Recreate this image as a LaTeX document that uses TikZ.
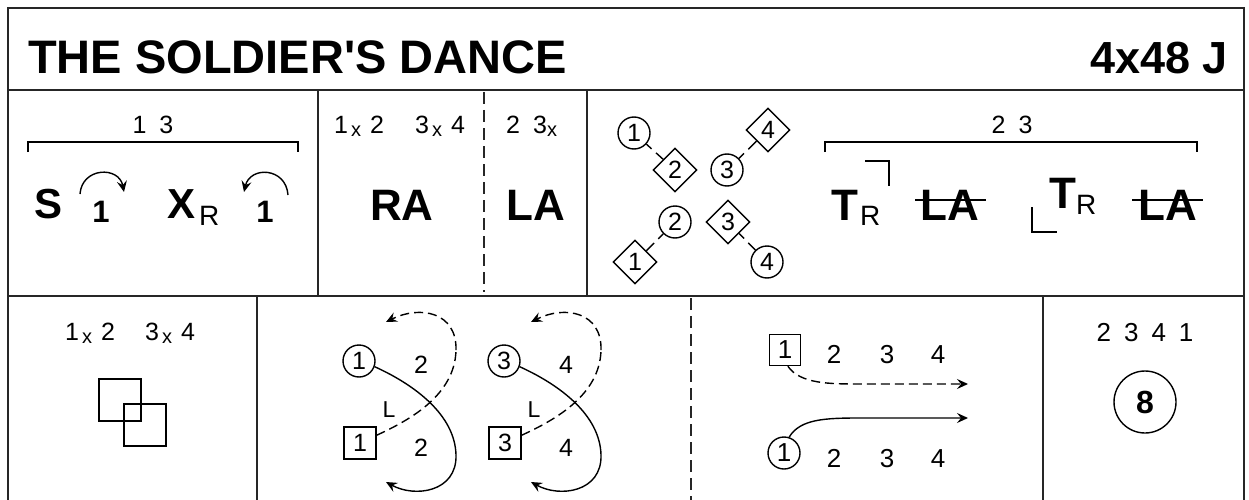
\documentclass[tikz,border=0pt]{standalone}
\usepackage{fontspec}
\setmainfont{Liberation Sans}
\usetikzlibrary{shapes.geometric,arrows.meta}
\newcommand\fsz[1]{\fontsize{#1}{#1}\selectfont}
\newcommand\subx{\hspace{3pt}\raisebox{-3pt}{\fsz{20}x}\hspace{9pt}}
\newcommand\subxe{\raisebox{-3pt}{\fsz{20}x}}
\newcommand\gap{\hspace{13pt}}
\begin{document}
\begin{tikzpicture}[x=1pt,y=-1pt,
  frame/.style={line width=2.2pt, draw=black!85},
  thinl/.style={line width=1.4pt},
  txt/.style={inner sep=0pt, anchor=base},
  num/.style={txt, font=\fsz{25}},
  bignum/.style={txt, font=\fsz{26}},
  pc/.style={circle, draw, thinl, minimum size=32pt, inner sep=0pt, font=\fsz{25}},
  pd/.style={diamond, aspect=1, draw, thinl, minimum size=44pt, inner sep=0pt, font=\fsz{25}},
  psq/.style={rectangle, draw, thinl, minimum size=32pt, inner sep=0pt, font=\fsz{25}},
  bigsq/.style={rectangle, draw, thinl, minimum size=42pt, inner sep=0pt},
  bold/.style={txt, font=\fsz{44}\bfseries},
  boldm/.style={txt, font=\fsz{42}\bfseries},
  subr/.style={txt, anchor=base west, font=\fsz{28}},
  partner/.style={thinl, dash pattern=on 7pt off 6pt on 40pt},
  arr/.style={thinl, -{Stealth[length=11pt,width=10pt,inset=4pt]}},
  darr/.style={arr, dash pattern=on 9pt off 5pt},
  brk/.style={line width=1.4pt}
]
\useasboundingbox (0,0) rectangle (1249,500);
\fill[white] (0,0) rectangle (1249,500);

% frame
\draw[frame] (8,503) -- (8,8) -- (1244,8) -- (1244,503);
\draw[frame] (8,90) -- (1244,90);
\draw[frame] (8,296) -- (1244,296);
\draw[frame] (318,90) -- (318,296);
\draw[frame] (587,90) -- (587,296);
\draw[frame, line width=1.6pt, dash pattern=on 12pt off 6pt] (484,92) -- (484,292);
\draw[frame] (257,296) -- (257,503);
\draw[frame] (1043,296) -- (1043,503);
\draw[frame, line width=1.6pt, dash pattern=on 12pt off 6pt] (691,298) -- (691,503);

% title row
\node[txt, anchor=base west, font=\fsz{47}\bfseries] (title) at (28,74) {THE SOLDIER\textquotesingle S DANCE};
\node[txt, anchor=base east, font=\fsz{45}\bfseries] (tempo) at (1228,74) {4x48 J};

% row 2, cell 1
\node[num] (c1top) at (153,133) {1\gap 3};
\draw[brk] (28,152) -- (28,142) -- (298,142) -- (298,152);
\node[boldm] (S) at (49,218) {S};
\node[txt, font=\fsz{31}\bfseries] (one1) at (101,222) {1};
\draw[arr] (80,194) .. controls (82,167) and (119,166) .. (124,192);
\node[boldm] (X) at (182,218) {X};
\node[subr] (XR) at (199,225) {R};
\node[txt, font=\fsz{31}\bfseries] (one2) at (265,222) {1};
\draw[arr] (288,195) .. controls (286,167) and (250,166) .. (244,192);

% row 2, cell 2
\node[num, anchor=base west] (g12) at (334,133) {1\subx 2};
\node[num, anchor=base west] (g34) at (415,133) {3\subx 4};
\node[bold] (RA) at (402,220) {RA};
\node[num, anchor=base west] (g23) at (506,133) {2\gap 3\subxe};
\node[bold] (LA) at (536,220) {LA};

% row 2, cell 3: formation
\node[pc] (f1) at (634,133) {1};
\node[pd] (f2) at (675,170) {2};
\node[pc] (f3) at (727,170) {3};
\node[pd] (f4) at (768,130) {4};
\node[pc] (g2) at (675,222) {2};
\node[pd] (g1) at (635,262) {1};
\node[pd] (g3) at (728,222) {3};
\node[pc] (g4) at (767,262) {4};
\draw[partner] (f1) -- (f2);
\draw[partner] (f3) -- (f4);
\draw[partner] (g2) -- (g1);
\draw[partner] (g3) -- (g4);

% row 2, cell 3: turns
\node[num] (c3top) at (1012,133) {2\gap 3};
\draw[brk] (825,152) -- (825,142) -- (1197,142) -- (1197,152);
\node[bold] (T1) at (845,220) {T};
\node[subr] (T1R) at (860,225) {R};
\draw[brk] (865,161) -- (889,161) -- (889,186);
\node[bold] (LA1) at (950,220) {LA};
\draw[line width=2pt] (915,200) -- (986,200);
\node[bold] (T2) at (1063,208) {T};
\node[subr] (T2R) at (1076,214) {R};
\draw[brk] (1032,207) -- (1032,232) -- (1057,232);
\node[bold] (LA2) at (1168,220) {LA};
\draw[line width=2pt] (1132,200) -- (1203,200);

% row 3, cell 1
\node[num, anchor=base west] (h12) at (65,340) {1\subx 2};
\node[num, anchor=base west] (h34) at (145,340) {3\subx 4};
\node[bigsq] (q1) at (120,400) {};
\node[bigsq] (q2) at (145,425) {};

% row 3, cell 2
\node[pc] (m1) at (359,361) {1};
\node[num] (m2a) at (421,373) {2};
\node[psq] (n1) at (360,443) {1};
\node[num] (m2b) at (421,456) {2};
\node[txt, font=\fsz{23}] (L1) at (389,417) {L};
\coordinate (m1t) at (386,482);
\coordinate (n1t) at (386,322);
\draw[thinl] (m1.-20) .. controls (415,385) and (455,415) .. (456,455);
\draw[arr] (456,455) .. controls (457,492) and (415,498) .. (m1t);
\draw[thinl, dash pattern=on 9pt off 5pt] (n1.25) .. controls (410,420) and (455,395) .. (456,350);
\draw[darr] (456,350) .. controls (457,312) and (420,305) .. (n1t);

\begin{scope}[xshift=145pt]
\node[pc] (m3) at (359,361) {3};
\node[num] (m4a) at (421,373) {4};
\node[psq] (n3) at (360,443) {3};
\node[num] (m4b) at (421,456) {4};
\node[txt, font=\fsz{23}] (L3) at (389,417) {L};
\coordinate (m3t) at (386,482);
\coordinate (n3t) at (386,322);
\draw[thinl] (m3.-20) .. controls (415,385) and (455,415) .. (456,455);
\draw[arr] (456,455) .. controls (457,492) and (415,498) .. (m3t);
\draw[thinl, dash pattern=on 9pt off 5pt] (n3.25) .. controls (410,420) and (455,395) .. (456,350);
\draw[darr] (456,350) .. controls (457,312) and (420,305) .. (n3t);
\end{scope}

% row 3, cell 3
\node[psq, minimum size=31pt, font=\fsz{26}] (k1) at (785,350) {1};
\node[bignum] (k2) at (834,363) {2};
\node[bignum] (k3) at (887,363) {3};
\node[bignum] (k4) at (938,363) {4};
\node[pc, font=\fsz{26}] (j1) at (784,453) {1};
\node[bignum] (j2) at (834,467) {2};
\node[bignum] (j3) at (887,467) {3};
\node[bignum] (j4) at (938,467) {4};
\coordinate (kt) at (968,384);
\coordinate (jt) at (968,418);
\draw[darr] (k1.-80) .. controls (800,384) and (830,384) .. (860,384) -- (kt);
\draw[arr] (j1.72) .. controls (800,419) and (825,418) .. (860,418) -- (jt);

% row 3, cell 4
\node[bignum] (order) at (1145,341) {2\gap 3\gap 4\gap 1};
\node[circle, draw, thinl, minimum size=62pt, inner sep=0pt, font=\fsz{32}\bfseries] (eight) at (1145,402) {8};
\end{tikzpicture}
\end{document}
